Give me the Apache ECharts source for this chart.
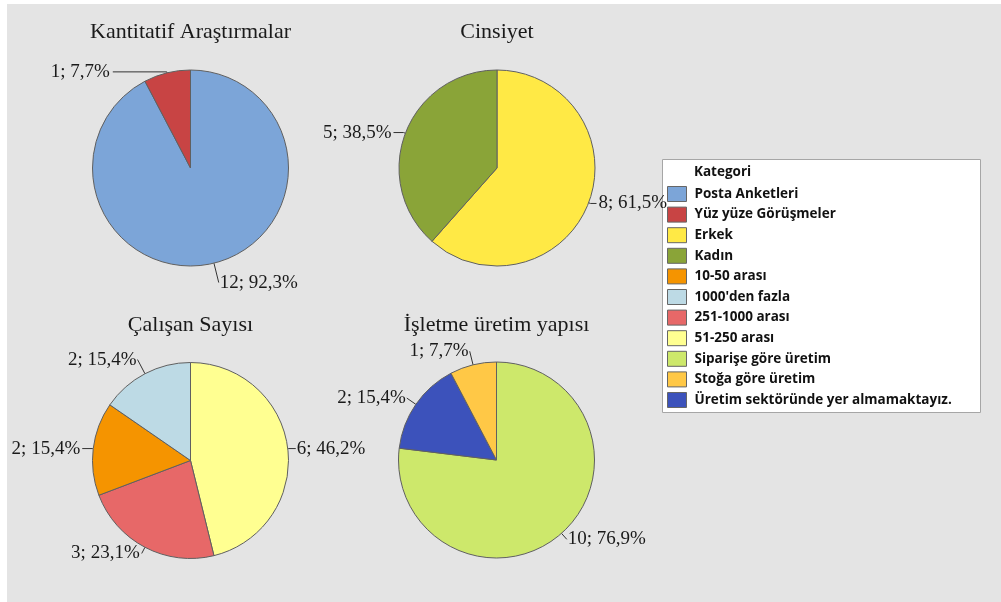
<!DOCTYPE html>
<html><head><meta charset="utf-8">
<script src="https://cdn.jsdelivr.net/npm/echarts@6/dist/echarts.min.js"></script>
<style>html,body{margin:0;padding:0;background:#fff}#c{width:1001px;height:602px}</style>
</head><body><div id="c"></div>
<script>
// ---- data ----
const kantCategories = ['Posta Anketleri', 'Yüz yüze Görüşmeler'];
const kantValues = [12, 1];
const cinsCategories = ['Erkek', 'Kadın'];
const cinsValues = [8, 5];
const calisanCategories = ['51-250 arası', '251-1000 arası', '10-50 arası', "1000'den fazla"];
const calisanValues = [6, 3, 2, 2];
const isletmeCategories = ['Siparişe göre üretim', 'Üretim sektöründe yer almamaktayız.', 'Stoğa göre üretim'];
const isletmeValues = [10, 2, 1];
const chartTitles = ['Kantitatif Araştırmalar', 'Cinsiyet', 'Çalışan Sayısı', 'İşletme üretim yapısı'];
const legendTitle = 'Kategori';
const legendOrder = ['Posta Anketleri', 'Yüz yüze Görüşmeler', 'Erkek', 'Kadın', '10-50 arası', "1000'den fazla",
  '251-1000 arası', '51-250 arası', 'Siparişe göre üretim', 'Stoğa göre üretim', 'Üretim sektöründe yer almamaktayız.'];

// ---- styles ----
const colors = {
  'Posta Anketleri': '#7ca5d8', 'Yüz yüze Görüşmeler': '#c84444', 'Erkek': '#ffe945', 'Kadın': '#8aa438',
  '10-50 arası': '#f59400', "1000'den fazla": '#bddae5', '251-1000 arası': '#e76868', '51-250 arası': '#ffff91',
  'Siparişe göre üretim': '#cde86b', 'Stoğa göre üretim': '#ffc846', 'Üretim sektöründe yer almamaktayız.': '#3c52bb'
};
// [length, length2, distance]
const lineCfg = {
  'Posta Anketleri': [20, 0, 1], 'Yüz yüze Görüşmeler': [1, 54, 3],
  'Erkek': [2, 6, 2], 'Kadın': [2, 10, 2],
  '51-250 arası': [1, 7, 1], '251-1000 arası': [7, 0, 2], '10-50 arası': [1, 10, 2], "1000'den fazla": [16, 0, 1],
  'Siparişe göre üretim': [8, 0, 1], 'Üretim sektöründe yer almamaktayız.': [11, 0, 1], 'Stoğa göre üretim': [14, 0, 1]
};
const serif = 'Liberation Serif';
const legendFont = 'Open Sans';
const pies = [
  { cats: kantCategories, vals: kantValues, center: [190.5, 168] },
  { cats: cinsCategories, vals: cinsValues, center: [497, 168] },
  { cats: calisanCategories, vals: calisanValues, center: [190.5, 460.5] },
  { cats: isletmeCategories, vals: isletmeValues, center: [496.5, 460] }
];
const titleY = [32.5, 32.5, 325, 325];

const series = pies.map(p => {
  const total = p.vals.reduce((a, b) => a + b, 0);
  return {
    type: 'pie', radius: 98, center: p.center, startAngle: 90, clockwise: true,
    avoidLabelOverlap: false, animation: false, silent: true,
    itemStyle: { borderColor: '#606060', borderWidth: 1 },
    label: {
      show: true, position: 'outside', color: '#1a1a1a', fontFamily: serif, fontSize: 19,
      formatter: prm => prm.value + '; ' + (prm.value / total * 100).toFixed(1).replace('.', ',') + '%'
    },
    labelLine: { show: true, lineStyle: { color: '#333', width: 1 } },
    data: p.cats.map((c, i) => {
      const lc = lineCfg[c];
      return {
        name: c, value: p.vals[i], itemStyle: { color: colors[c] },
        label: { distanceToLabelLine: lc[2] },
        labelLine: { length: lc[0], length2: lc[1] }
      };
    })
  };
});

const graphics = [
  { type: 'rect', z: -10, shape: { x: 7, y: 4, width: 1001, height: 602 }, style: { fill: '#e4e4e4' } },
  { type: 'rect', z: 1, shape: { x: 662.5, y: 159.5, width: 318, height: 253 }, style: { fill: '#fff', stroke: '#a6a6a6', lineWidth: 1 } },
  { type: 'text', z: 5, style: { x: 694, y: 172.5, text: legendTitle, textAlign: 'left', textVerticalAlign: 'middle',
      font: 'bold 13.5px "' + legendFont + '"', fill: '#111' } }
];
pies.forEach((p, i) => {
  graphics.push({ type: 'text', z: 5, style: { x: p.center[0], y: titleY[i], text: chartTitles[i], textAlign: 'center',
    textVerticalAlign: 'middle', font: '22px "' + serif + '"', fill: '#1a1a1a' } });
});

const chart = echarts.init(document.getElementById('c'), null, { renderer: 'canvas' });
chart.setOption({
  animation: false,
  backgroundColor: '#ffffff',
  graphic: { elements: graphics },
  legend: {
    orient: 'vertical', left: 667, top: 186, padding: 0, itemGap: 4.6, itemWidth: 19, itemHeight: 15,
    icon: 'rect', selectedMode: false, data: legendOrder,
    itemStyle: { borderColor: '#666', borderWidth: 1 },
    textStyle: { fontFamily: legendFont, fontWeight: 'bold', fontSize: 13.5, lineHeight: 15, color: '#111', padding: [0, 0, 0, 3] }
  },
  series: series
});
</script></body></html>
